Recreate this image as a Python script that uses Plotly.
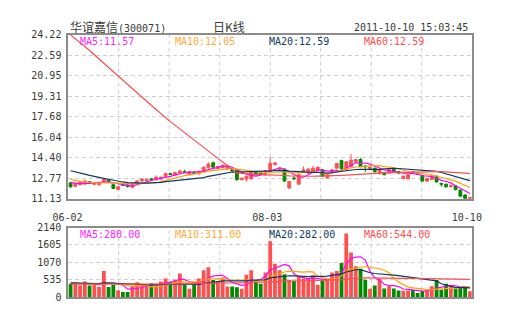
import pandas as pd
import plotly.graph_objects as go

# ---- daily bars of 300071, 06-02 .. 10-10 (85 sessions) ----
open_ = [12.40, 12.12, 12.25, 12.30, 12.50, 12.28, 12.25, 12.45, 12.65, 12.25,
         11.88, 12.30, 12.22, 12.05, 12.38, 12.55, 12.58, 12.72, 12.65, 12.70,
         12.90, 13.15, 13.02, 13.18, 13.30, 13.05, 13.25, 13.12, 13.32, 13.60,
         14.00, 13.55, 13.62, 13.50, 13.45, 13.44, 12.65, 12.70, 12.72, 13.31,
         13.20, 13.25, 13.31, 13.85, 13.48, 13.49, 11.98, 12.78, 12.29, 13.31,
         13.18, 13.23, 13.40, 13.44, 12.80, 13.31, 13.57, 14.18, 13.44, 13.70,
         14.08, 14.26, 13.75, 13.55, 13.57, 13.13, 13.23, 13.18, 13.57, 13.31,
         12.75, 12.72, 13.30, 13.15, 12.98, 12.54, 12.67, 12.93, 12.36, 12.29,
         12.08, 12.16, 11.82, 11.43, 11.15]
high = [12.45, 12.40, 12.50, 12.65, 12.55, 12.48, 12.45, 12.72, 12.70, 12.28,
        12.12, 12.38, 12.28, 12.40, 12.60, 12.75, 12.72, 12.78, 13.00, 12.90,
        13.20, 13.20, 13.28, 13.45, 13.45, 13.35, 13.32, 13.35, 13.70, 14.05,
        14.10, 13.75, 13.85, 13.78, 13.50, 13.50, 12.82, 12.98, 13.28, 13.35,
        13.28, 13.42, 14.47, 14.05, 13.62, 13.55, 12.55, 12.93, 13.10, 13.70,
        13.55, 13.75, 13.70, 13.50, 13.10, 13.50, 14.00, 14.25, 14.12, 14.70,
        14.30, 14.40, 13.78, 13.68, 13.62, 13.48, 13.28, 13.48, 13.62, 13.35,
        12.98, 13.10, 13.32, 13.20, 13.02, 12.76, 13.10, 12.98, 12.38, 12.33,
        12.28, 12.20, 11.85, 11.48, 11.25]
low = [12.00, 12.08, 12.20, 12.25, 12.30, 12.20, 12.18, 12.40, 12.45, 11.90,
       11.80, 12.15, 12.02, 12.00, 12.32, 12.50, 12.52, 12.60, 12.60, 12.65,
       12.85, 13.02, 12.98, 13.12, 13.18, 13.00, 13.10, 13.05, 13.28, 13.55,
       13.60, 13.50, 13.55, 13.45, 13.30, 12.54, 12.60, 12.50, 12.65, 13.00,
       13.05, 12.93, 13.25, 13.80, 13.42, 12.45, 11.92, 12.68, 12.25, 13.25,
       13.10, 13.18, 13.35, 12.88, 12.72, 13.25, 13.50, 13.45, 13.40, 13.65,
       14.00, 13.65, 13.25, 13.50, 13.18, 13.08, 13.00, 13.15, 13.28, 13.10,
       12.70, 12.68, 13.12, 13.05, 12.50, 12.48, 12.62, 12.42, 12.08, 12.02,
       12.05, 11.80, 11.30, 11.13, 11.13]
close = [12.08, 12.35, 12.45, 12.55, 12.35, 12.42, 12.40, 12.68, 12.50, 11.95,
         12.08, 12.20, 12.10, 12.35, 12.55, 12.70, 12.68, 12.65, 12.85, 12.85,
         13.15, 13.08, 13.22, 13.35, 13.22, 13.30, 13.15, 13.30, 13.65, 13.90,
         13.65, 13.70, 13.80, 13.72, 13.35, 12.67, 12.78, 12.93, 13.23, 13.05,
         13.12, 13.38, 13.95, 13.98, 13.58, 12.55, 12.50, 12.72, 13.05, 13.44,
         13.50, 13.57, 13.65, 12.93, 13.05, 13.44, 13.95, 13.52, 14.08, 14.21,
         14.26, 13.70, 13.68, 13.64, 13.31, 13.44, 13.05, 13.44, 13.31, 13.18,
         12.93, 13.05, 13.18, 13.12, 12.54, 12.72, 12.98, 12.47, 12.29, 12.08,
         12.16, 11.85, 11.33, 11.15, 11.22]
volume = [407, 437, 357, 475, 357, 386, 307, 802, 307, 377,
          208, 158, 158, 337, 456, 357, 337, 426, 377, 475,
          574, 465, 535, 723, 377, 258, 377, 574, 822, 921,
          525, 475, 600, 327, 327, 300, 258, 684, 822, 525,
          406, 753, 1724, 1030, 822, 703, 525, 505, 624, 574,
          574, 674, 377, 505, 525, 753, 802, 1050, 1961, 1376,
          951, 872, 535, 258, 357, 560, 260, 330, 260, 200,
          190, 200, 220, 122, 188, 220, 330, 525, 228, 407,
          320, 260, 300, 340, 180]

# closes and volumes of the 59 sessions before 06-02 (feed the moving averages)
prior_close = [30.2, 30.6, 31.05, 32.5, 32.8, 33.1, 32.7, 32.4, 32.9, 33.3,
               33.0, 32.6, 32.2, 31.9, 32.3, 32.8, 33.2, 32.9, 32.5, 32.0,
               31.6, 31.3, 31.0, 30.8, 31.2, 31.5, 31.1, 30.7, 30.9, 31.3,
               31.0, 30.6, 30.4, 30.9, 31.2, 15.3, 14.9, 14.6, 14.3, 14.4,
               14.5, 14.3, 14.0, 14.2, 14.4, 14.1, 13.8, 13.9, 13.7, 13.6,
               13.3, 13.1, 12.9, 12.8, 12.6, 12.7, 12.5, 12.4, 12.37]
prior_volume = [460, 420, 540, 400, 350, 380, 500, 410, 360, 330,
                310, 370, 400, 350, 300, 360, 330, 390, 320, 280,
                340, 370, 310, 280, 350, 400, 340, 320, 370, 350,
                360, 330, 300, 320, 540, 700, 500, 430, 390, 460,
                540, 420, 450, 400, 500, 430, 380, 460, 410, 420,
                450, 390, 470, 420, 430, 460, 420, 410, 440]

price_ticks = [11.13, 12.77, 14.40, 16.04, 17.68, 19.31, 20.95, 22.59, 24.22]
volume_ticks = [0, 535, 1070, 1605, 2140]
date_ticks = ["06-02", "08-03", "10-10"]
date_tick_pos = [0, 42, 84]

price_ma_text = ["MA5:11.57", "MA10:12.05", "MA20:12.59", "MA60:12.59"]
volume_ma_text = ["MA5:280.00", "MA10:311.00", "MA20:282.00", "MA60:544.00"]
ma_periods = [5, 10, 20, 60]
ma_colors = ["#ff00ff", "#ffa500", "#0b3a68", "#ff4d4d"]
ma_text_colors = ["#ff22ff", "#ffaa33", "#0b3a68", "#ff4d4d"]

UP = "#ff5050"
DOWN = "#008a00"
GRID = "#cfcfcf"
FRAME = "#8c8c8c"
TEXT = "#3a3a3a"
MONO = "DejaVu Sans Mono, Liberation Mono, monospace"
CJK = "Noto Sans CJK SC"

n = len(close)
idx = list(range(n))
all_close = pd.Series(prior_close + close)
all_vol = pd.Series(prior_volume + volume)
k = len(prior_close)

W, H = 505, 330
L, R = 55, 481
P_TOP, P_BOT = 30, 200
V_TOP, V_BOT = 230, 302


def ypaper(px):
    return 1 - px / H


fig = go.Figure()

fig.add_trace(go.Candlestick(
    x=idx, open=open_, high=high, low=low, close=close,
    increasing=dict(line=dict(color=UP, width=1), fillcolor=UP),
    decreasing=dict(line=dict(color=DOWN, width=1), fillcolor=DOWN),
    whiskerwidth=0, showlegend=False, hoverinfo="skip",
    xaxis="x", yaxis="y"))

for p, c in zip(ma_periods, ma_colors):
    ma = all_close.rolling(p).mean().iloc[k:].tolist()
    fig.add_trace(go.Scatter(x=idx, y=ma, mode="lines",
                             line=dict(color=c, width=1.2),
                             showlegend=False, hoverinfo="skip",
                             xaxis="x", yaxis="y"))

bar_colors = [UP if c >= o else DOWN for o, c in zip(open_, close)]
fig.add_trace(go.Bar(x=idx, y=volume, marker=dict(color=bar_colors, line=dict(width=0)),
                     width=0.8, showlegend=False, hoverinfo="skip",
                     xaxis="x2", yaxis="y2"))

for p, c in zip(ma_periods, ma_colors):
    ma = all_vol.rolling(p).mean().iloc[k:].tolist()
    fig.add_trace(go.Scatter(x=idx, y=ma, mode="lines",
                             line=dict(color=c, width=1.2),
                             showlegend=False, hoverinfo="skip",
                             xaxis="x2", yaxis="y2"))

xdom = [L / W, R / W]
axis_common = dict(showline=True, linecolor=FRAME, linewidth=1.5, mirror=True,
                   zeroline=False, fixedrange=True)
tick_font = dict(family=MONO, size=10, color=TEXT)

fig.update_layout(
    width=W, height=H, margin=dict(l=0, r=0, t=0, b=0),
    paper_bgcolor="white", plot_bgcolor="white",
    boxgap=0.15,
    bargap=0.2,
    xaxis=dict(domain=xdom, range=[-0.5, n - 0.5], anchor="y",
               tickvals=date_tick_pos, ticktext=date_ticks, ticks="",
               ticklabelstandoff=9, ticklabelshift=-3, tickfont=tick_font,
               showgrid=False, rangeslider=dict(visible=False), **axis_common),
    yaxis=dict(domain=[ypaper(P_BOT), ypaper(P_TOP)], range=[price_ticks[0], price_ticks[-1]],
               anchor="x", tickvals=price_ticks, ticktext=[f"{v:.2f}" for v in price_ticks],
               ticks="", ticklabelstandoff=3, tickfont=tick_font,
               showgrid=True, gridcolor=GRID, griddash="4px,3px", gridwidth=1,
               **axis_common),
    xaxis2=dict(domain=xdom, range=[-0.5, n - 0.5], anchor="y2",
                showticklabels=False, ticks="", showgrid=False, **axis_common),
    yaxis2=dict(domain=[ypaper(V_BOT), ypaper(V_TOP)], range=[volume_ticks[0], volume_ticks[-1]],
                anchor="x2", tickvals=volume_ticks, ticks="", ticklabelstandoff=3,
                tickfont=tick_font,
                showgrid=True, gridcolor=GRID, griddash="4px,3px", gridwidth=1,
                **axis_common),
)

# vertical dashed grid, eight equal columns in both panels
for ax in ["x", "x2"]:
    yref = "y domain" if ax == "x" else "y2 domain"
    for j in range(1, 8):
        fig.add_shape(type="line", xref=f"{ax} domain", yref=yref,
                      x0=j / 8, x1=j / 8, y0=0, y1=1, layer="below",
                      line=dict(color=GRID, width=1, dash="4px,3px"))

# moving-average captions
for j, (t, c) in enumerate(zip(price_ma_text, ma_text_colors)):
    fig.add_annotation(text=t, xref="paper", yref="paper",
                       x=(65 + 100 * j) / W, y=ypaper(37), xanchor="left", yanchor="middle",
                       showarrow=False, font=dict(family=MONO, size=10, color=c))
for j, (t, c) in enumerate(zip(volume_ma_text, ma_text_colors)):
    fig.add_annotation(text=t, xref="paper", yref="paper",
                       x=(65 + 100 * j) / W, y=ypaper(237), xanchor="left", yanchor="middle",
                       showarrow=False, font=dict(family=MONO, size=10, color=c))

# header
fig.add_annotation(text=f"<span style=\"font-family:'{CJK}';font-size:12px\">华谊嘉信</span>(300071)",
                   xref="paper", yref="paper", x=L / W, y=ypaper(21),
                   xanchor="left", yanchor="middle", showarrow=False,
                   font=dict(family=MONO, size=10, color=TEXT))
fig.add_annotation(text="日K线", xref="paper", yref="paper", x=225 / W, y=ypaper(21),
                   xanchor="center", yanchor="middle", showarrow=False,
                   font=dict(family=CJK, size=12, color=TEXT))
fig.add_annotation(text="2011-10-10 15:03:45", xref="paper", yref="paper", x=479 / W, y=ypaper(22),
                   xanchor="right", yanchor="middle", showarrow=False,
                   font=dict(family=MONO, size=10, color=TEXT))

fig.write_html("out.html",
               post_script="document.body.style.margin='0';"
                           "document.documentElement.style.overflow='hidden';")
